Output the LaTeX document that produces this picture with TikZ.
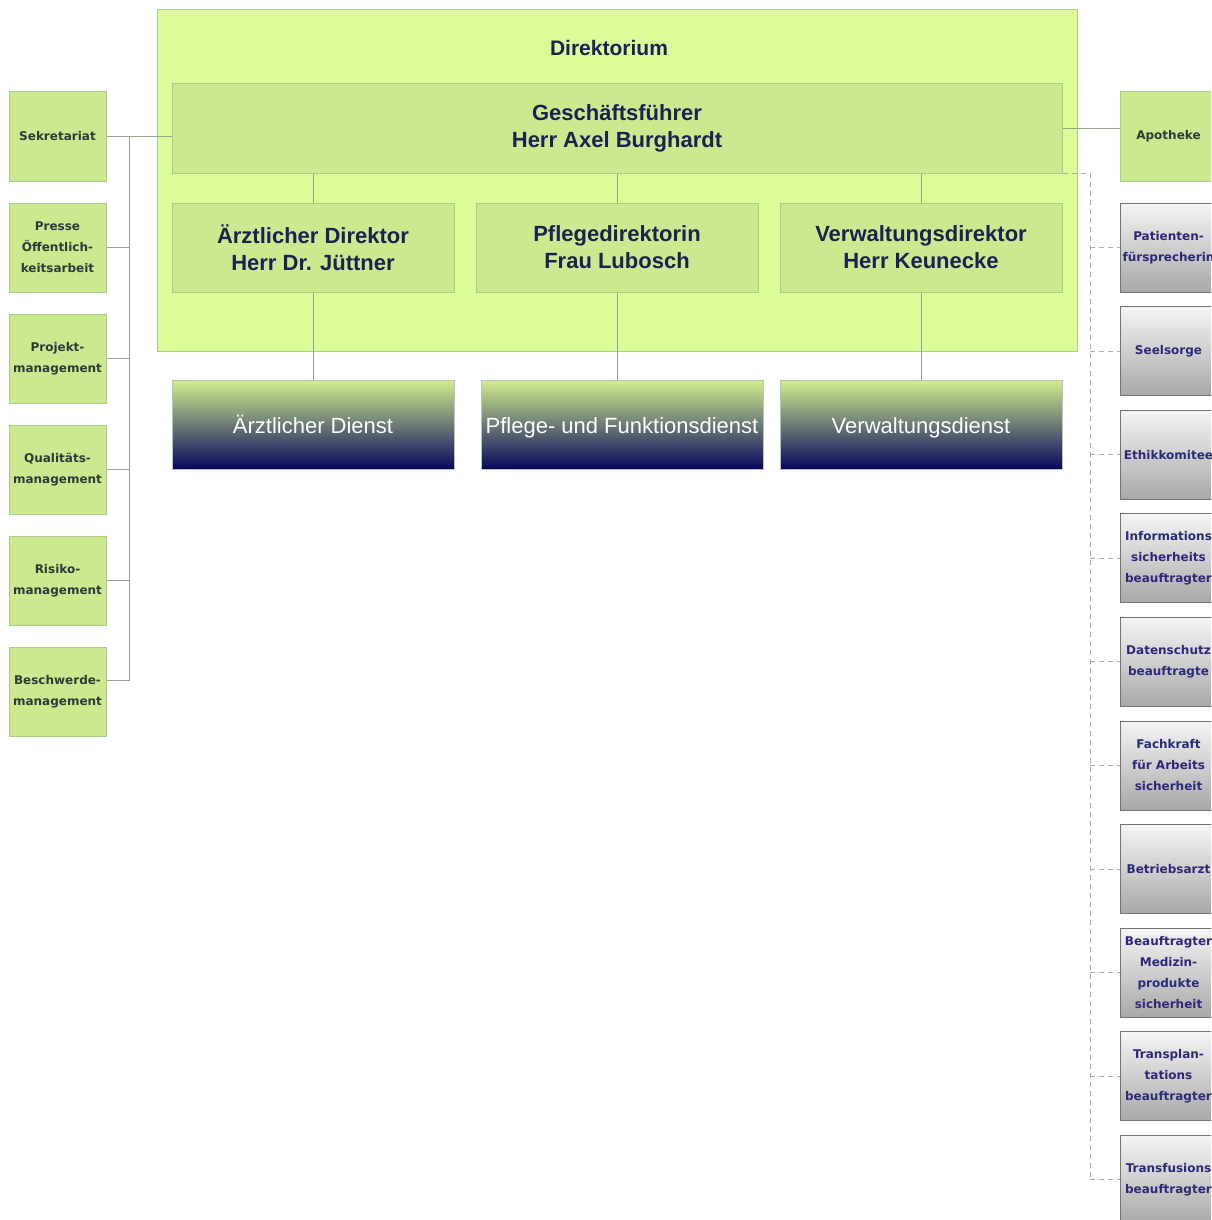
\documentclass[tikz,border=0pt]{standalone}
\usepackage{fontspec}
\setmainfont{Liberation Sans}
\newfontfamily\boxfont{DejaVu Sans}
\usetikzlibrary{positioning}

\definecolor{dirgreen}{HTML}{DCFC9A}
\definecolor{boxgreen}{HTML}{CDE98F}
\definecolor{edgegreen}{HTML}{A8CF88}
\definecolor{linegray}{HTML}{97A58E}
\definecolor{dashgray}{HTML}{A9B2A0}
\definecolor{navytext}{HTML}{1C2152}
\definecolor{slatetext}{HTML}{2E3A3A}
\definecolor{stafftext}{HTML}{2A2A78}
\definecolor{diensttop}{HTML}{D2EF8E}
\definecolor{dienstmid}{HTML}{56647A}
\definecolor{dienstnavy}{HTML}{06065C}

\tikzset{
  greenbox/.style={draw=edgegreen, fill=boxgreen, line width=0.5pt, inner sep=0pt, align=center},
  chefbox/.style={greenbox, minimum width=141pt, minimum height=44.5pt, text=navytext,
    font=\bfseries\fontsize{11}{13.5}\selectfont},
  smallbox/.style={minimum width=48.5pt, minimum height=44.5pt, inner sep=0pt, align=center,
    font=\boxfont\bfseries\fontsize{6}{10.5}\selectfont},
  leftbox/.style={greenbox, smallbox, text=slatetext},
  staffbox/.style={smallbox, draw=black!55, line width=0.5pt, top color=black!4,
    middle color=black!14, bottom color=black!34, text=stafftext},
  dienstbox/.style={draw=black!25, line width=0.5pt, minimum width=141pt, minimum height=44.5pt,
    inner sep=0pt, text height=11.5pt, text depth=2.5pt, top color=diensttop,
    middle color=dienstmid, bottom color=dienstnavy, text=white, font=\fontsize{11}{13}\selectfont},
  orgline/.style={draw=linegray, line width=0.5pt},
  staffline/.style={draw=dashgray, line width=0.5pt, dash pattern=on 2.5pt off 2pt}
}

\begin{document}
\begin{tikzpicture}[x=0.5pt,y=-0.5pt] % one unit = one pixel of the original
    \useasboundingbox (0,0) rectangle (1211,1220);
    \clip (0,0) rectangle (1211,1220);

    % Direktorium
    \node[draw=edgegreen, fill=dirgreen, line width=0.5pt, minimum width=460pt, minimum height=170.5pt] (direktorium) at (617,180.5) {};
    \node[text=navytext, font=\bfseries\fontsize{10.5}{12}\selectfont] (dirtitle) at (609,48) {Direktorium};
    \node[greenbox, minimum width=445pt, minimum height=44.5pt, text=navytext,
          font=\bfseries\fontsize{11}{13.5}\selectfont] (gf) at (617,128.5) {Geschäftsführer\\Herr Axel Burghardt};

    \node[chefbox] (arzt) at (313,247.5) {Ärztlicher Direktor\\Herr Dr. Jüttner};
    \node[chefbox] (pflege) at (617,247.5) {Pflegedirektorin\\Frau Lubosch};
    \node[chefbox] (verwaltung) at (921,247.5) {Verwaltungsdirektor\\Herr Keunecke};

    \node[dienstbox] (arztdienst) at (313,424.5) {Ärztlicher Dienst};
    \node[dienstbox] (pflegedienst) at (622,424.5) {Pflege- und Funktionsdienst};
    \node[dienstbox] (verwaltungsdienst) at (921,424.5) {Verwaltungsdienst};

    \foreach \chef in {arzt,pflege,verwaltung} {
        \draw[orgline] (\chef.north |- gf.south) -- (\chef.north);
    }
    \draw[orgline] (arzt.south) -- (arzt.south |- arztdienst.north);
    \draw[orgline] (pflege.south) -- (pflege.south |- pflegedienst.north);
    \draw[orgline] (verwaltung.south) -- (verwaltung.south |- verwaltungsdienst.north);

    % Stabsstellen links
    \foreach \name/\txt [count=\i from 0] in {sekretariat/Sekretariat,
        presse/{Presse\\Öffentlich-\\keitsarbeit}, projekt/{Projekt-\\management},
        qualitaet/{Qualitäts-\\management}, risiko/{Risiko-\\management},
        beschwerde/{Beschwerde-\\management}} {
        \node[leftbox] (\name) at (57.5,136.5+111*\i) {\txt};
    }
    \coordinate (lbus) at (129,0);
    \draw[orgline] (sekretariat.east) -- (sekretariat.east -| gf.west);
    \draw[orgline] (sekretariat.east -| lbus) -- ([yshift=5.5pt]beschwerde.east -| lbus)
        -- ([yshift=5.5pt]beschwerde.east);
    \foreach \name in {presse,projekt,qualitaet,risiko} {
        \draw[orgline] (\name.east) -- (\name.east -| lbus);
    }

    % Apotheke und Beauftragte rechts
    \node[leftbox] (apotheke) at (1168.5,136.5) {Apotheke};
    \draw[orgline] (gf.east) -- (gf.east -| apotheke.west);

    \foreach \name/\txt [count=\i from 0] in {patienten/{Patienten-\\fürsprecherin},
        seelsorge/Seelsorge, ethik/Ethikkomitee,
        infosicher/{Informations\\sicherheits\\beauftragter},
        datenschutz/{Datenschutz\\beauftragte},
        fachkraft/{Fachkraft\\für Arbeits\\sicherheit},
        betriebsarzt/Betriebsarzt,
        medizin/{Beauftragter\\Medizin-\\produkte\\sicherheit},
        transplant/{Transplan-\\tations\\beauftragter},
        transfusion/{Transfusions\\beauftragter}} {
        \node[staffbox] (\name) at (1168.5,247.5+103.6*\i) {\txt};
    }
    \coordinate (rbus) at (1090,0);
    \draw[staffline] (gf.south east) -- (gf.south east -| rbus) -- (transfusion.west -| rbus);
    \foreach \name in {patienten,seelsorge,ethik,infosicher,datenschutz,fachkraft,betriebsarzt,medizin,transplant,transfusion} {
        \draw[staffline] (\name.west -| rbus) -- (\name.west);
    }
\end{tikzpicture}
\end{document}
